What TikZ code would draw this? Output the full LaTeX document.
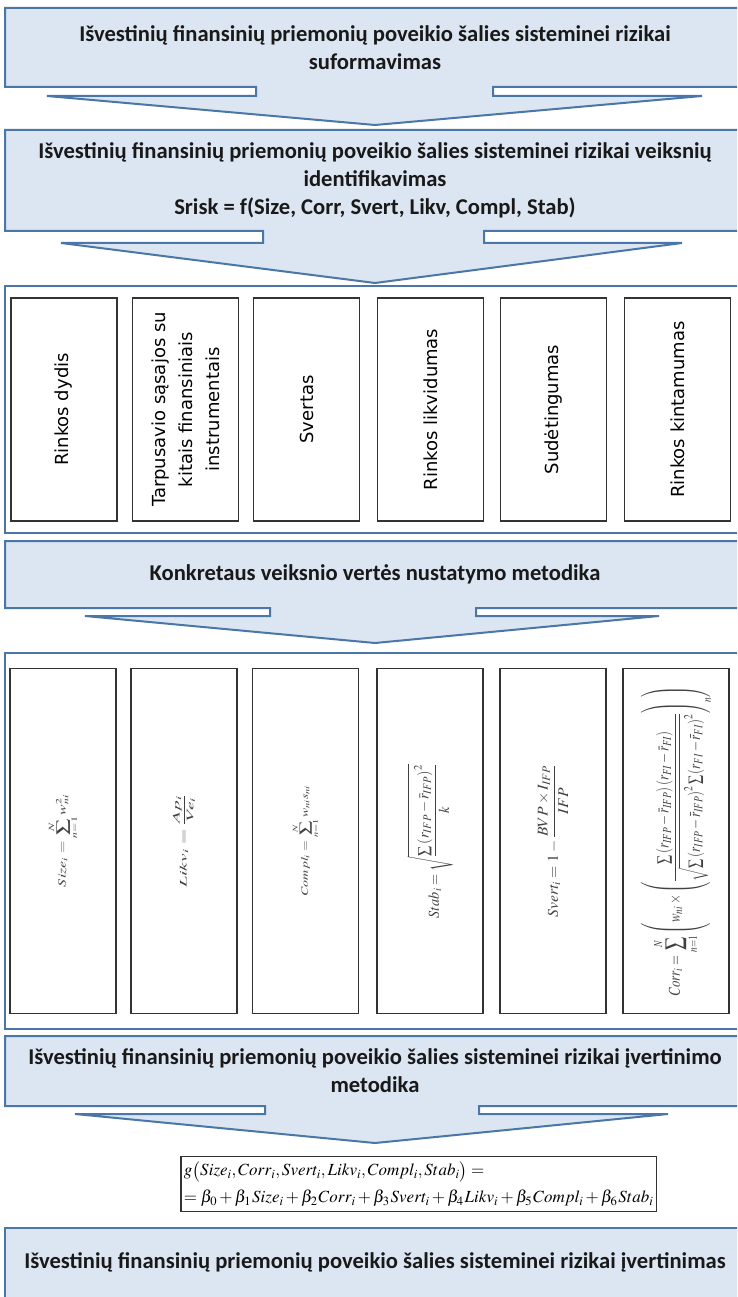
\documentclass[tikz,border=0pt]{standalone}
\usepackage{mathptmx}
\usepackage{graphicx}
\usepackage[no-math]{fontspec}
\setmainfont{Carlito}
\newfontfamily\factorfont{DejaVu Sans}
\definecolor{calfill}{HTML}{DCE6F2}
\definecolor{calline}{HTML}{4A77A8}
\definecolor{boxline}{HTML}{333333}
\definecolor{fgray}{HTML}{404040}
\newcommand{\callout}[8]{%
  \draw[calstyle] (5,#1) -- (760,#1) -- (760,#2) -- (#4,#2) -- (#4,#5) -- (#7,#5)
    -- (375,#8) -- (#6,#5) -- (#3,#5) -- (#3,#2) -- (5,#2) -- cycle;}
\newcommand{\fml}[3]{\resizebox*{#1}{#2}{$\displaystyle #3$}}
\begin{document}
\begin{tikzpicture}[x=1pt,y=-1pt,
  calstyle/.style={fill=calfill,draw=calline,line width=2pt,line join=miter},
  contstyle/.style={draw=calline,line width=2pt},
  caltext/.style={align=center,font=\fontsize{22.6}{28}\selectfont\bfseries,text=black!90},
  factorbox/.style={draw=boxline,line width=1.2pt,rotate=90,minimum height=106pt,
    inner sep=2pt,align=center,font=\factorfont\fontsize{18}{27}\selectfont},
  rowone/.style={minimum width=223pt},
  rowtwo/.style={minimum width=345pt},
  fmltext/.style={text=fgray},
  eqbox/.style={draw=boxline,line width=1.2pt,align=left,inner xsep=3pt,inner ysep=5pt,
    font=\fontsize{17}{27}\selectfont}]
\useasboundingbox (0,0) rectangle (737,1297);
\clip (0,0) rectangle (737,1297);
\fill[white] (0,0) rectangle (737,1297);

% callouts
\callout{8}{87}{256}{493}{96}{47}{702}{125}
\node[caltext] (t1) at (375,47.5) {Išvestinių finansinių priemonių poveikio šalies sisteminei rizikai\\suformavimas};

\callout{130}{231}{263}{484}{243}{61}{682}{283}
\node[caltext] (t2) at (375,180) {Išvestinių finansinių priemonių poveikio šalies sisteminei rizikai veiksnių\\identifikavimas\\Srisk = f(Size, Corr, Svert, Likv, Compl, Stab)};

% container 1
\draw[contstyle] (5,286) rectangle (760,533);
\node[factorbox,rowone] (f1) at (64,409.5) {Rinkos dydis};
\node[factorbox,rowone] (f2) at (185.5,409.5) {Tarpusavio sąsajos su\\kitais finansiniais\\instrumentais};
\node[factorbox,rowone] (f3) at (306.5,409.5) {Svertas};
\node[factorbox,rowone] (f4) at (430.5,409.5) {Rinkos likvidumas};
\node[factorbox,rowone] (f5) at (553.5,409.5) {Sudėtingumas};
\node[factorbox,rowone] (f6) at (677.5,409.5) {Rinkos kintamumas};

\callout{541}{608}{270}{476}{616}{85}{659}{643}
\node[caltext] (t3) at (375,574.5) {Konkretaus veiksnio vertės nustatymo metodika};

% container 2
\draw[contstyle] (5,653) rectangle (760,1029);
\node[factorbox,rowtwo,fmltext] (m1) at (63,841) {\fml{92pt}{30pt}{Size_i=\sum_{n=1}^{N}w_{ni}^{2}}};
\node[factorbox,rowtwo,fmltext] (m2) at (184,841) {\fml{93pt}{22pt}{Likv_i=\frac{Ap_i}{Ve_i}}};
\node[factorbox,rowtwo,fmltext] (m3) at (305.5,841) {\fml{110pt}{27pt}{Compl_i=\sum_{n=1}^{N}w_{ni}s_{ni}}};
\node[factorbox,rowtwo,fmltext] (m4) at (430,841) {\fml{154pt}{46pt}{Stab_i=\sqrt{\frac{\sum\left(r_{IFP}-\bar r_{IFP}\right)^2}{k}}}};
\node[factorbox,rowtwo,fmltext] (m5) at (553,841) {\fml{153pt}{30pt}{Svert_i=1-\frac{BVP\times I_{IFP}}{IFP}}};
\node[factorbox,rowtwo,fmltext] (m6) at (676,841) {\fml{310pt}{70pt}{Corr_i=\sum_{n=1}^{N}\left(w_{ni}\times\left(\frac{\sum\left(r_{IFP}-\bar r_{IFP}\right)\left(r_{FI}-\bar r_{FI}\right)}{\sqrt{\sum\left(r_{IFP}-\bar r_{IFP}\right)^2\sum\left(r_{FI}-\bar r_{FI}\right)^2}}\right)_n\right)}};

\callout{1036}{1106}{265}{479}{1114}{75}{668}{1143}
\node[caltext] (t4) at (375,1071) {Išvestinių finansinių priemonių poveikio šalies sisteminei rizikai įvertinimo\\metodika};

% equation
\node[eqbox,anchor=east] (eq) at (657,1184) {$g\bigl(Size_i,Corr_i,Svert_i,Likv_i,Compl_i,Stab_i\bigr)=$\\$=\beta_0+\beta_1\mkern1mu Size_i+\beta_2\mkern1mu Corr_i+\beta_3\mkern1mu Svert_i+\beta_4\mkern1mu Likv_i+\beta_5\mkern1mu Compl_i+\beta_6\mkern1mu Stab_i$};

% final box
\draw[calstyle] (5,1228) rectangle (760,1320);
\node[caltext] (t5) at (375,1262) {Išvestinių finansinių priemonių poveikio šalies sisteminei rizikai įvertinimas};
\end{tikzpicture}
\end{document}
